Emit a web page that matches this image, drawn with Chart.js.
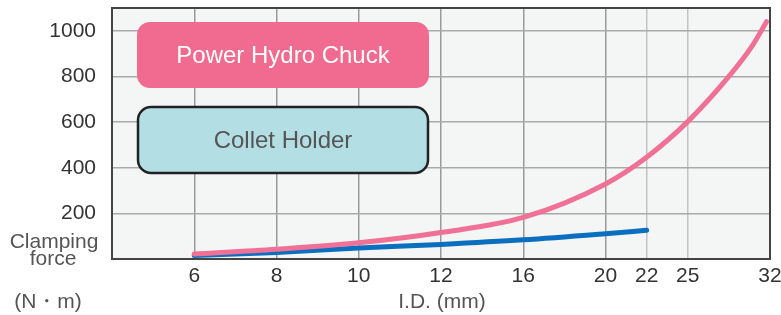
<!DOCTYPE html>
<html>
<head>
<meta charset="utf-8">
<script src="https://cdn.jsdelivr.net/npm/chart.js@4.4.1/dist/chart.umd.min.js"></script>
<style>
  html, body { margin: 0; padding: 0; background: #fff; }
  #wrap { width: 781px; height: 315px; }
</style>
</head>
<body>
<div id="wrap"><canvas id="forceChart" width="781" height="315"></canvas></div>
<script>
// I.D. values shown under the x axis
const diameters = [6, 8, 10, 12, 16, 20, 22, 25, 32];

// Power Hydro Chuck clamping force (N·m)
const hydroDia = [6, 8, 10, 12, 16, 20, 22, 25, 28.5, 30.5, 31.7];
const hydroForce = [22, 43, 71, 116, 182, 329, 446, 602, 800, 935, 1040];

// Collet Holder clamping force (N·m)
const colletDia = [6, 8, 10, 12, 16, 20, 22];
const colletForce = [15, 29, 48, 64, 84, 111, 126];

// labelled y ticks
const yLabels = [200, 400, 600, 800, 1000];

// the x axis of the original is not evenly spaced: each labelled I.D. sits on its own slot
const slots = [1, 2, 3, 4, 5, 6, 6.5, 7, 8];
function toSlot(d) {
  for (let i = 0; i < diameters.length - 1; i++) {
    if (d <= diameters[i + 1]) {
      const t = (d - diameters[i]) / (diameters[i + 1] - diameters[i]);
      return slots[i] + t * (slots[i + 1] - slots[i]);
    }
  }
  return slots[slots.length - 1];
}
function toPoints(xs, ys) {
  return xs.map((d, i) => ({ x: toSlot(d), y: ys[i] }));
}

const FONT = '"Liberation Sans", Arial, sans-serif';

// plot background, frame, boxed legends and axis captions
const decor = {
  id: 'decor',
  beforeDraw(chart) {
    const { ctx, chartArea: a } = chart;
    ctx.save();
    ctx.fillStyle = '#f3f6f5';
    ctx.fillRect(a.left, a.top, a.right - a.left, a.bottom - a.top);
    ctx.restore();
  },
  afterDraw(chart) {
    const { ctx, chartArea: a } = chart;
    ctx.save();
    // frame
    ctx.strokeStyle = '#444';
    ctx.lineWidth = 2;
    ctx.strokeRect(a.left, a.top, a.right - a.left, a.bottom - a.top);

    // boxes
    function box(x, y, w, h, fill, stroke, text, color) {
      ctx.beginPath();
      ctx.roundRect(x, y, w, h, 13);
      ctx.fillStyle = fill;
      ctx.fill();
      if (stroke) {
        ctx.strokeStyle = stroke;
        ctx.lineWidth = 2.5;
        ctx.stroke();
      }
      ctx.fillStyle = color;
      ctx.font = '24px ' + FONT;
      ctx.textAlign = 'center';
      ctx.textBaseline = 'middle';
      ctx.fillText(text, x + w / 2, y + h / 2 + 1);
    }
    box(137, 22, 292, 66, '#f06b8f', null, 'Power Hydro Chuck', '#ffffff');
    box(138, 107, 290, 66, '#b2dee4', '#222', 'Collet Holder', '#555555');

    // captions
    ctx.fillStyle = '#555';
    ctx.font = '21px ' + FONT;
    ctx.textAlign = 'center';
    ctx.textBaseline = 'middle';
    ctx.fillText('Clamping', 54, 242);
    ctx.fillText('force', 53, 259);
    ctx.fillText('(N\u30FBm)', 48, 302);
    ctx.fillText('I.D. (mm)', 442, 302);
    ctx.restore();
  }
};

const ctx = document.getElementById('forceChart').getContext('2d');
new Chart(ctx, {
  type: 'line',
  data: {
    datasets: [
      {
        label: 'Power Hydro Chuck',
        data: toPoints(hydroDia, hydroForce),
        borderColor: '#f07096',
        borderWidth: 5,
        borderCapStyle: 'round',
        cubicInterpolationMode: 'monotone',
        pointRadius: 0,
        fill: false
      },
      {
        label: 'Collet Holder',
        data: toPoints(colletDia, colletForce),
        borderColor: '#0b6fbf',
        borderWidth: 5,
        borderCapStyle: 'round',
        cubicInterpolationMode: 'monotone',
        pointRadius: 0,
        fill: false
      }
    ]
  },
  options: {
    responsive: false,
    animation: false,
    layout: { padding: { top: 8, right: 11, left: 0, bottom: 0 } },
    plugins: { legend: { display: false }, tooltip: { enabled: false } },
    scales: {
      x: {
        type: 'linear',
        min: 0,
        max: 8,
        afterBuildTicks(axis) {
          axis.ticks = slots.map(v => ({ value: v }));
        },
        afterFit(axis) {
          axis.height = 56;
          axis.paddingLeft = 0;
          axis.paddingRight = 0;
        },
        border: { display: false },
        grid: {
          drawTicks: false,
          lineWidth: 1.5,
          color: c => (c.tick && (c.tick.value === 6.5 || c.tick.value === 7)) ? '#c2c4c4' : '#9a9a9a'
        },
        ticks: {
          padding: 5,
          color: '#333',
          font: { family: FONT, size: 21 },
          maxRotation: 0,
          autoSkip: false,
          callback: v => {
            const i = slots.indexOf(v);
            return i >= 0 ? String(diameters[i]) : '';
          }
        }
      },
      y: {
        min: 0,
        max: 1100,
        afterFit(axis) {
          axis.width = 112;
          axis.paddingTop = 0;
          axis.paddingBottom = 0;
        },
        border: { display: false },
        grid: { drawTicks: false, lineWidth: 1.5, color: '#a8aaaa' },
        ticks: {
          stepSize: 100,
          padding: 16,
          color: '#333',
          font: { family: FONT, size: 21 },
          callback: v => yLabels.includes(v) ? String(v) : ''
        }
      }
    }
  },
  plugins: [decor]
});
</script>
</body>
</html>
